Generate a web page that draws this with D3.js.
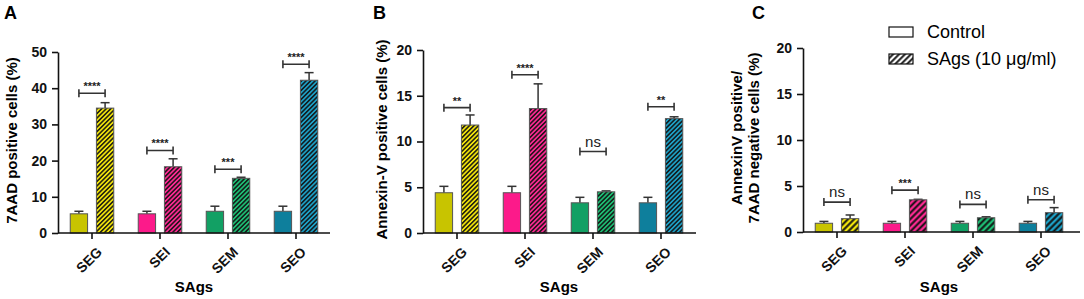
<!DOCTYPE html>
<html>
<head>
<meta charset="utf-8">
<script src="https://cdn.jsdelivr.net/npm/d3@7"></script>
<style>
  body { margin: 0; background: #fff; }
  svg { font-family: "Liberation Sans", Arial, sans-serif; }
  .tick text { font-weight: bold; font-size: 14px; fill: #111; }
  .axis path, .axis line { stroke: #111; stroke-width: 1.6px; }
</style>
</head>
<body>
<div id="chart-area"></div>
<script>
// Categories and values
const categories = ["SEG", "SEI", "SEM", "SEO"];

// Panel A: 7AAD positive cells (%)
const aControl = [5.3, 5.3, 6.0, 6.0];
const aControlErr = [0.7, 0.7, 1.4, 1.4];
const aTreat = [34.5, 18.3, 15.1, 42.2];
const aTreatErr = [1.5, 2.2, 0.3, 2.1];
const aSig = ["****", "****", "***", "****"];
const aSigY = [38.6, 22.8, 17.6, 46.6];
const aTicks = [0, 10, 20, 30, 40, 50];

// Panel B: Annexin-V positive cells (%)
const bControl = [4.4, 4.4, 3.3, 3.3];
const bControlErr = [0.7, 0.7, 0.6, 0.6];
const bTreat = [11.8, 13.6, 4.5, 12.5];
const bTreatErr = [1.1, 2.7, 0.1, 0.2];
const bSig = ["**", "****", "ns", "**"];
const bSigY = [13.7, 17.3, 8.9, 13.8];
const bTicks = [0, 5, 10, 15, 20];

// Panel C: AnnexinV positive / 7AAD negative cells (%)
const cControl = [0.95, 0.95, 0.95, 0.95];
const cControlErr = [0.2, 0.2, 0.2, 0.2];
const cTreat = [1.45, 3.5, 1.55, 2.1];
const cTreatErr = [0.4, 0.05, 0.1, 0.55];
const cSig = ["ns", "***", "ns", "ns"];
const cSigY = [3.25, 4.55, 3.0, 3.5];
const cTicks = [0, 5, 10, 15, 20];

const controlColors = ["#c8c400", "#fc1a8a", "#12a064", "#0e7f9c"];
const treatColors = ["#f2e40c", "#fc2a92", "#1ebd74", "#1da0c6"];

const width = 1084, height = 299;
const svg = d3.select("#chart-area").append("svg")
  .attr("width", width).attr("height", height);
const defs = svg.append("defs");

// Hatch patterns, one per colour and density
function hatch(id, color, step) {
  const p = defs.append("pattern")
    .attr("id", id)
    .attr("patternUnits", "userSpaceOnUse")
    .attr("width", step).attr("height", step)
    .attr("patternTransform", "rotate(45)");
  p.append("rect").attr("width", step).attr("height", step).attr("fill", color);
  p.append("line").attr("x1", step / 2).attr("x2", step / 2)
    .attr("y1", 0).attr("y2", step)
    .attr("stroke", "#111").attr("stroke-width", step * 0.45);
}
treatColors.forEach((c, i) => { hatch("hA" + i, c, 3.2); hatch("hC" + i, c, 4.4); });
hatch("hLegend", "#fff", 4.2);

function drawPanel(opt) {
  const g = svg.append("g");
  const x = d3.scaleBand().domain(categories).range([opt.x0, opt.x0 + 272]);
  const y = d3.scaleLinear().domain([0, opt.ymax]).range([opt.yBottom, opt.yTop]);
  const bw = x.step() * 0.255, gap = x.step() * 0.13;

  // bars
  categories.forEach((cat, i) => {
    const cx = x(cat) + x.bandwidth() / 2;
    const bars = [
      { x: cx - gap / 2 - bw, v: opt.control[i], e: opt.controlErr[i], fill: controlColors[i] },
      { x: cx + gap / 2, v: opt.treat[i], e: opt.treatErr[i], fill: `url(#${opt.hatch}${i})` }
    ];
    bars.forEach(b => {
      const mid = b.x + bw / 2;
      g.append("line")
        .attr("x1", mid).attr("x2", mid)
        .attr("y1", y(b.v)).attr("y2", y(b.v + b.e))
        .attr("stroke", "#333").attr("stroke-width", 1.5);
      g.append("line")
        .attr("x1", mid - 4.5).attr("x2", mid + 4.5)
        .attr("y1", y(b.v + b.e)).attr("y2", y(b.v + b.e))
        .attr("stroke", "#333").attr("stroke-width", 1.5);
      g.append("rect")
        .attr("x", b.x).attr("y", y(b.v))
        .attr("width", bw).attr("height", y(0) - y(b.v))
        .attr("fill", b.fill)
        .attr("stroke", "#555").attr("stroke-width", 1);
    });

    // significance bracket
    const x1 = bars[0].x + bw / 2, x2 = bars[1].x + bw / 2, by = y(opt.sigY[i]);
    g.append("path")
      .attr("d", `M${x1},${by - 4}V${by + 4}M${x1},${by}H${x2}M${x2},${by - 4}V${by + 4}`)
      .attr("fill", "none").attr("stroke", "#333").attr("stroke-width", 1.6);
    const ns = opt.sig[i] === "ns";
    g.append("text")
      .attr("x", (x1 + x2) / 2).attr("y", ns ? by - 5 : by - 3)
      .attr("text-anchor", "middle")
      .style("font-size", ns ? "15px" : "11px")
      .style("font-weight", ns ? "normal" : "bold")
      .attr("fill", "#222")
      .text(opt.sig[i]);

    // category label, slanted 45 degrees
    g.append("text")
      .attr("transform", `translate(${cx + 4},${opt.yBottom + 13}) rotate(-45)`)
      .attr("text-anchor", "end")
      .attr("dy", "0.7em")
      .style("font-weight", "bold").style("font-size", "14px")
      .attr("fill", "#111")
      .text(cat);
  });

  // y axis
  g.append("g").attr("class", "axis")
    .attr("transform", `translate(${opt.x0},0)`)
    .call(d3.axisLeft(y).tickValues(opt.ticks).tickSize(6).tickSizeOuter(0))
    .call(a => a.selectAll(".tick text").attr("dx", "-2px"));

  // x axis (labels drawn separately above)
  const xa = g.append("g").attr("class", "axis")
    .attr("transform", `translate(0,${opt.yBottom})`)
    .call(d3.axisBottom(x).tickSize(6).tickSizeOuter(0).tickFormat(""));
  xa.select(".domain").attr("d", `M${opt.x0},0H${opt.xEnd}`);

  // axis titles
  g.append("text")
    .attr("x", opt.x0 + 136).attr("y", 292)
    .attr("text-anchor", "middle")
    .style("font-weight", "bold").style("font-size", "15px")
    .text("SAgs");
  opt.ylabel.forEach((line, k) => {
    g.append("text")
      .attr("transform", `translate(${opt.ylabelX + k * 17},${(opt.yBottom + opt.yTop) / 2 - 2}) rotate(-90)`)
      .attr("text-anchor", "middle")
      .style("font-weight", "bold").style("font-size", "15px")
      .text(line);
  });
  g.append("text")
    .attr("x", opt.letterX).attr("y", 19)
    .style("font-weight", "bold").style("font-size", "18px")
    .text(opt.letter);
}

drawPanel({ letter: "A", letterX: 4, x0: 58, xEnd: 330, yTop: 52, yBottom: 233, ymax: 50,
  ticks: aTicks, control: aControl, controlErr: aControlErr, treat: aTreat, treatErr: aTreatErr,
  sig: aSig, sigY: aSigY, hatch: "hA", ylabel: ["7AAD positive cells (%)"], ylabelX: 17 });
drawPanel({ letter: "B", letterX: 373, x0: 423, xEnd: 696, yTop: 50, yBottom: 233, ymax: 20,
  ticks: bTicks, control: bControl, controlErr: bControlErr, treat: bTreat, treatErr: bTreatErr,
  sig: bSig, sigY: bSigY, hatch: "hA", ylabel: ["Annexin-V positive cells (%)"], ylabelX: 387 });
drawPanel({ letter: "C", letterX: 752, x0: 803, xEnd: 1080, yTop: 48, yBottom: 232, ymax: 20,
  ticks: cTicks, control: cControl, controlErr: cControlErr, treat: cTreat, treatErr: cTreatErr,
  sig: cSig, sigY: cSigY, hatch: "hC", ylabel: ["AnnexinV positive/", "7AAD negative cells (%)"], ylabelX: 742 });

// legend
const legendItems = [
  { label: "Control", fill: "#fff" },
  { label: "SAgs (10 \u03bcg/ml)", fill: "url(#hLegend)" }
];
const lg = svg.append("g");
legendItems.forEach((d, i) => {
  lg.append("rect")
    .attr("x", 889).attr("y", 27 + i * 27)
    .attr("width", 24).attr("height", 10)
    .attr("fill", d.fill).attr("stroke", "#111").attr("stroke-width", 1.2);
  lg.append("text")
    .attr("x", 927).attr("y", 38 + i * 27)
    .style("font-size", "18px")
    .text(d.label);
});
</script>
</body>
</html>
